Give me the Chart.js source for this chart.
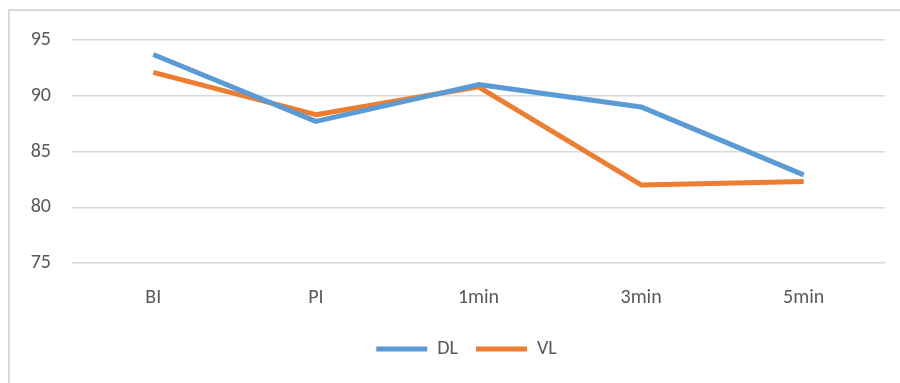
<!DOCTYPE html>
<html>
<head>
<meta charset="utf-8">
<script src="https://cdn.jsdelivr.net/npm/chart.js@4"></script>
<style>
  html, body { margin: 0; padding: 0; background: #fff; overflow: hidden; }
  #wrap { position: relative; width: 900px; height: 383px; }
  #frame {
    position: absolute; left: 8px; top: 9px; width: 910px; height: 400px;
    border-top: 2px solid #d9d9d9; border-left: 2px solid #d9d9d9;
    pointer-events: none;
  }
  #chart { position: absolute; left: 0; top: 0; }
</style>
</head>
<body>
<div id="wrap">
  <div id="frame"></div>
  <canvas id="chart" width="900" height="383"></canvas>
</div>
<script>
const categories = ['BI', 'PI', '1min', '3min', '5min'];
const dlValues = [93.7, 87.7, 91.0, 89.0, 82.9];
const vlValues = [92.1, 88.3, 90.8, 82.0, 82.3];
const yTicks = [75, 80, 85, 90, 95];

const textColor = '#595959';
const fontFamily = 'Carlito, Calibri, "Liberation Sans", sans-serif';

// nudge the legend a bit to the right, like the original
const legendShift = {
    id: 'legendShift',
    afterLayout(chart) {
        chart.legend.left += 24;
        chart.legend.right += 24;
    }
};

const ctx = document.getElementById('chart').getContext('2d');

new Chart(ctx, {
    type: 'line',
    data: {
        labels: categories,
        datasets: [{
            label: 'DL',
            data: dlValues,
            borderColor: '#5B9BD5',
            backgroundColor: '#5B9BD5',
            borderWidth: 5,
            pointRadius: 0,
            borderJoinStyle: 'round',
            tension: 0
        }, {
            label: 'VL',
            data: vlValues,
            borderColor: '#ED7D31',
            backgroundColor: '#ED7D31',
            borderWidth: 5,
            pointRadius: 0,
            borderJoinStyle: 'round',
            tension: 0
        }]
    },
    options: {
        responsive: false,
        animation: false,
        layout: {
            padding: { left: 0, right: 15, top: 40, bottom: 14 }
        },
        scales: {
            x: {
                offset: true,
                afterFit: function(scale) { scale.height = 58; },
                grid: { display: false },
                border: { display: false },
                ticks: {
                    color: textColor,
                    padding: 15,
                    font: { family: fontFamily, size: 20 }
                }
            },
            y: {
                min: 75,
                max: 95,
                afterFit: function(scale) { scale.width = 72; },
                afterBuildTicks: function(scale) {
                    scale.ticks = yTicks.map(v => ({ value: v }));
                },
                grid: { color: '#d9d9d9', lineWidth: 1.5, drawTicks: false },
                border: { display: false },
                ticks: {
                    color: textColor,
                    padding: 21,
                    font: { family: fontFamily, size: 20 }
                }
            }
        },
        plugins: {
            legend: {
                position: 'bottom',
                labels: {
                    usePointStyle: true,
                    pointStyle: 'line',
                    pointStyleWidth: 51,
                    color: textColor,
                    padding: 18,
                    font: { family: fontFamily, size: 20 }
                }
            },
            tooltip: { enabled: false }
        }
    },
    plugins: [legendShift]
});
</script>
</body>
</html>
